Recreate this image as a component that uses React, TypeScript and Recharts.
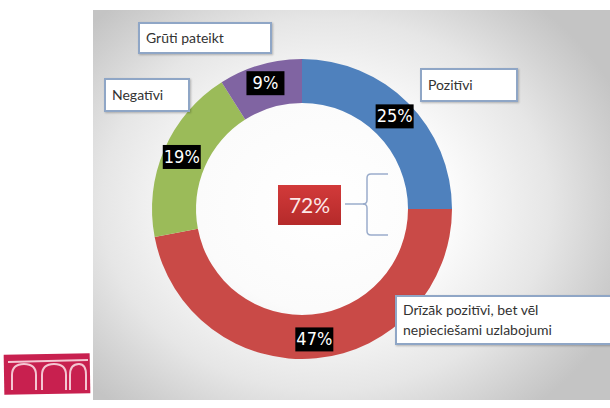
import React from 'react';
import { PieChart, Pie, Cell } from 'recharts';

const categories = ['Pozitīvi', 'Drīzāk pozitīvi, bet vēl nepieciešami uzlabojumi', 'Negatīvi', 'Grūti pateikt'];
const shares = [25, 47, 19, 9];
const colors = ['#4f81bd', '#c94a47', '#9bbb59', '#8064a2'];

const data = categories.map((name, i) => ({ name, value: shares[i] }));
const positiveTotal = shares[0] + shares[1];

const RADIAN = Math.PI / 180;

const renderLabel = (props: any) => {
  const { cx, cy, midAngle, innerRadius, outerRadius, value } = props;
  const r = (innerRadius + outerRadius) / 2 + 3;
  const x = cx + r * Math.cos(-midAngle * RADIAN);
  const y = cy + r * Math.sin(-midAngle * RADIAN);
  return (
    <g>
      <rect x={x - 19} y={y - 12} width={38} height={24} fill="#000" />
      <text
        x={x}
        y={y + 1}
        fill="#fff"
        fontSize={18}
        fontFamily="'DejaVu Sans Condensed', 'DejaVu Sans', sans-serif"
        textAnchor="middle"
        dominantBaseline="middle"
      >
        {value}%
      </text>
    </g>
  );
};

const calloutStyle: React.CSSProperties = {
  position: 'absolute',
  background: '#fff',
  border: '2px solid #8fa6c6',
  boxShadow: '1px 1px 2px rgba(0,0,0,0.25)',
  color: '#333',
  fontFamily: 'Lato, sans-serif',
  fontSize: 14,
  boxSizing: 'border-box',
  padding: '0 6px',
  lineHeight: '20px',
};

export default function App() {
  return (
    <div style={{ position: 'absolute', left: 0, top: 0, width: 610, height: 408, background: '#fff', overflow: 'hidden' }}>
      <div
        style={{
          position: 'absolute',
          left: 93,
          top: 10,
          width: 517,
          height: 390,
          background: 'radial-gradient(ellipse 62% 68% at 45% 50%, #ffffff 0%, #fbfbfb 40%, #e6e6e6 70%, #cfcfcf 90%, #c4c4c4 100%)',
        }}
      />
      <div style={{ position: 'absolute', left: 0, top: 0 }}>
        <PieChart width={610} height={408}>
          <Pie
            data={data}
            dataKey="value"
            nameKey="name"
            cx={297}
            cy={204}
            innerRadius={106}
            outerRadius={150}
            startAngle={90}
            endAngle={-270}
            stroke="none"
            label={renderLabel}
            labelLine={false}
            isAnimationActive={false}
          >
            {data.map((d, i) => (
              <Cell key={d.name} fill={colors[i]} />
            ))}
          </Pie>
        </PieChart>
      </div>

      <div style={{ ...calloutStyle, left: 138, top: 22, width: 134, height: 32, paddingTop: 4 }}>{categories[3]}</div>
      <div style={{ ...calloutStyle, left: 420, top: 68, width: 98, height: 34, paddingTop: 5 }}>{categories[0]}</div>
      <div style={{ ...calloutStyle, left: 104, top: 78, width: 86, height: 34, paddingTop: 5 }}>{categories[2]}</div>
      <div style={{ ...calloutStyle, left: 395, top: 295, width: 220, height: 50, paddingTop: 3 }}>
        Drīzāk pozitīvi, bet vēl
        <br />
        nepieciešami uzlabojumi
      </div>

      <div
        style={{
          position: 'absolute',
          left: 278,
          top: 185,
          width: 63,
          height: 40,
          background: 'linear-gradient(#d23a3a, #b52a2a)',
          color: '#fde8e8',
          fontFamily: 'Lato, sans-serif',
          fontSize: 21,
          lineHeight: '40px',
          textAlign: 'center',
        }}
      >
        {positiveTotal}%
      </div>

      <svg style={{ position: 'absolute', left: 0, top: 0 }} width={610} height={408}>
        <g stroke="#9aaccb" strokeWidth={1.5} fill="none">
          <line x1={345} y1={204} x2={365} y2={204} />
          <path d="M388 174 H371 Q367 174 367 178 V200 Q367 204 363 204 Q367 204 367 208 V231 Q367 235 371 235 H388" />
        </g>
        <g>
          <rect x={4} y={354} width={86} height={40} fill="#c8204f" transform="rotate(-1 47 374)" />
          <g stroke="#f4c6d2" strokeWidth={2} fill="none">
            <path d="M12 390 V375 Q12 364 24 364 Q36 364 36 375 V390" />
            <path d="M42 390 V375 Q42 364 54 364 Q66 364 66 375 V390" />
            <path d="M70 390 V375 Q70 364 79 364 Q86 364 86 375 V390" />
            <line x1={8} y1={362} x2={88} y2={360} />
          </g>
        </g>
      </svg>
    </div>
  );
}
